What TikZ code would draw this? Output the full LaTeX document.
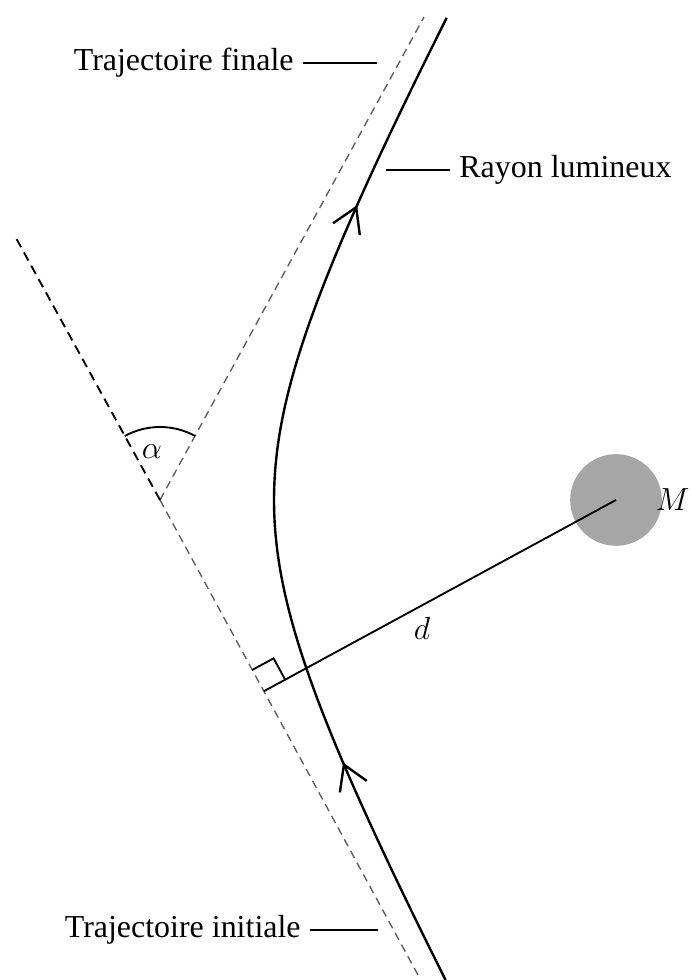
\documentclass[tikz,border=0pt]{standalone}
\usepackage{fontspec}
\setmainfont{Liberation Serif}
\usetikzlibrary{calc,arrows.meta,decorations.markings}
\definecolor{massgray}{HTML}{A6A6A6}
\definecolor{asymgray}{HTML}{5A5A5A}

\begin{document}
\begin{tikzpicture}[x=1.32mm, y=1.32mm,
    every node/.style={font=\fontsize{12}{14}\selectfont},
    asym/.style={asymgray, line width=0.5pt, dash pattern=on 3pt off 2pt},
    leader/.style={line width=0.9pt},
    ray/.style={line width=0.9pt, decoration={markings,
        mark=at position 0.2335 with {\arrow{Straight Barb[length=9pt,width=11pt]}},
        mark=at position 0.7984 with {\arrow{Straight Barb[length=9pt,width=11pt]}}},
      postaction={decorate}},
    mass/.style={circle, fill=massgray, minimum size=12.1mm, inner sep=0pt}]
      \useasboundingbox (0,0) rectangle (69,98);
      \coordinate (V) at (16,48);
      \coordinate (Vin) at (41.8,0.5);
      \coordinate (Vback) at (1.6,74.2);
      \coordinate (Vout) at (42.4,96.3);
      \node[mass] (M) at (61.6,48) {};
      \node[anchor=east, inner sep=0pt, font=\fontsize{11.5}{14}\selectfont] (Mlabel) at (69,48) {$M$};
      \coordinate (F) at ($(V)!(M.center)!(Vin)$);
      \draw[asym] (V) -- (Vin);
      \draw[asym] (V) -- (Vout);
      \draw[line width=0.7pt, dash pattern=on 3.5pt off 2.2pt] (V) -- (Vback);
      \draw[line width=0.7pt] ($(V)+(61.3:7.3)$) arc (61.3:118.8:7.3);
      \node[font=\fontsize{13}{15}\selectfont] (alpha) at (15.2,52.8) {$\alpha$};
      \draw[line width=0.7pt] (F) -- (M.center);
      \node[font=\fontsize{13}{15}\selectfont] (d) at (42.2,35.2) {$d$};
      \coordinate (Fa) at ($(F)!3.2mm!(V)$);
      \coordinate (Fb) at ($(F)!3.2mm!(M.center)$);
      \draw[line width=0.7pt] (Fa) -- ($(Fa)+(Fb)-(F)$) -- (Fb);
      \draw[ray] plot[domain=-1.569:1.5746, samples=150, variable=\t]
        ({16+5.7*(exp(\t)+exp(-\t))},{48+10.45*(exp(\t)-exp(-\t))});
      \node[anchor=east] (final) at (30.3,91.7) {Trajectoire finale};
      \coordinate (final-end) at (37.7,91.7);
      \draw[leader] (final) -- (final-end);
      \node[anchor=west] (raylabel) at (45,81) {Rayon lumineux};
      \coordinate (raylabel-end) at (38.6,81);
      \draw[leader] (raylabel) -- (raylabel-end);
      \node[anchor=east] (initial) at (31,5) {Trajectoire initiale};
      \coordinate (initial-end) at (37.8,5);
      \draw[leader] (initial) -- (initial-end);
    \end{tikzpicture}
\end{document}
